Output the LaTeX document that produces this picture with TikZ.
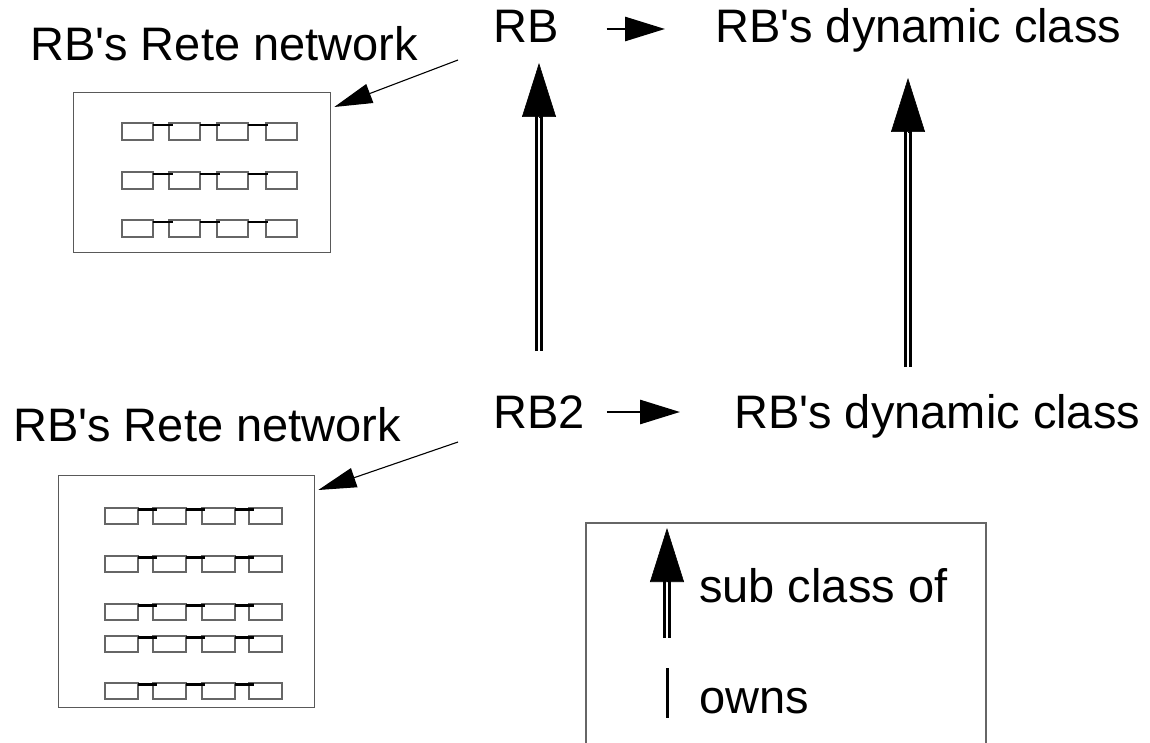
\documentclass[tikz,border=0pt]{standalone}
\usepackage{fontspec}
\setmainfont{Liberation Sans}
\usetikzlibrary{arrows.meta}
\begin{document}
\begin{tikzpicture}[x=1pt,y=-1pt,
  txt/.style={font=\fontsize{47}{52}\selectfont, inner sep=0pt, anchor=base west},
  frame/.style={draw=black!65, line width=1.3pt},
  cell/.style={draw=black!60, line width=1.2pt},
  bar/.style={draw=black, line width=2.6pt},
  pointer/.style={draw=black, line width=1.1pt, -{Triangle[length=38pt,width=20pt]}},
  ownsarrow/.style={draw=black, line width=2.8pt, -{Triangle[length=40pt,width=24pt]}},
  subshaft/.style={draw=black, double=white, double distance=2.4pt, line width=2.7pt},
  subhead/.style={draw=black, fill=black, line width=0.6pt, -{Triangle[length=54pt,width=34pt]}},
  legendframe/.style={draw=black!60, line width=1.4pt}]
\useasboundingbox (0,0) rectangle (1150,743);

% text nodes
\node[txt] (rete1lbl) at (30,61) {RB\textquotesingle s Rete network};
\node[txt] (rb) at (493,43) {RB};
\node[txt] (dyn1) at (715,43) {RB\textquotesingle s dynamic class};
\node[txt] (rete2lbl) at (13,441) {RB\textquotesingle s Rete network};
\node[txt] (rb2) at (493,428) {RB2};
\node[txt] (dyn2) at (734,428) {RB\textquotesingle s dynamic class};

% Rete network boxes
\node[frame, anchor=north west, minimum width=257pt, minimum height=160pt, inner sep=0pt] (rete1) at (73,92) {};
\foreach \y in {123,172,220} {
  \foreach \x in {122,169,217,266} { \draw[cell] (\x,\y) rectangle ++(31,17); }
  \foreach \x in {153,200,248} { \draw[bar] (\x,\y+2) -- ++(20,0); }
}
\node[frame, anchor=north west, minimum width=256pt, minimum height=232pt, inner sep=0pt] (rete2) at (58,475) {};
\foreach \y in {508,556,604,636,683} {
  \foreach \x in {105,153,202,249} { \draw[cell] (\x,\y) rectangle ++(33,16); }
  \foreach \x in {138,186,235} { \draw[bar] (\x,\y+1.5) -- ++(19,0); }
}

% pointers to Rete networks
\coordinate (p1) at (458,60);
\coordinate (p2) at (458,442);
\draw[pointer] (p1) -- ([shift={(3,15)}]rete1.north east);
\draw[pointer] (p2) -- ([shift={(3,15)}]rete2.north east);

% owns arrows
\coordinate (r1a) at ([xshift=48pt,yshift=14pt]rb.base east);
\coordinate (r1b) at ([xshift=-50pt,yshift=14pt]dyn1.base west);
\draw[ownsarrow] (r1a) -- (r1b);
\coordinate (r2a) at ([xshift=22pt,yshift=16pt]rb2.base east);
\coordinate (r2b) at ([xshift=-54pt,yshift=16pt]dyn2.base west);
\draw[ownsarrow] (r2a) -- (r2b);

% sub class arrows
\coordinate (s1b) at (539,351);
\coordinate (s1t) at (539,63);
\draw[subshaft] (s1b) -- ([yshift=-48pt]s1t);
\draw[subhead] ([yshift=-54pt]s1t) -- (s1t);

\coordinate (s2b) at (908,367);
\coordinate (s2t) at (908,78);
\draw[subshaft] (s2b) -- ([yshift=-48pt]s2t);
\draw[subhead] ([yshift=-54pt]s2t) -- (s2t);

% legend
\draw[legendframe] (586,743) -- (586,523) -- (986,523) -- (986,743);
\coordinate (lb) at (667,638);
\coordinate (lt) at (667,528);
\draw[subshaft] (lb) -- ([yshift=-48pt]lt);
\draw[subhead] ([yshift=-53pt]lt) -- (lt);
\node[txt] (lsub) at (699,602) {sub class of};
\coordinate (o1) at (667,668);
\coordinate (o2) at (667,718);
\draw[draw=black, line width=3pt] (o1) -- (o2);
\node[txt] (lowns) at (699,713) {owns};
\end{tikzpicture}
\end{document}
